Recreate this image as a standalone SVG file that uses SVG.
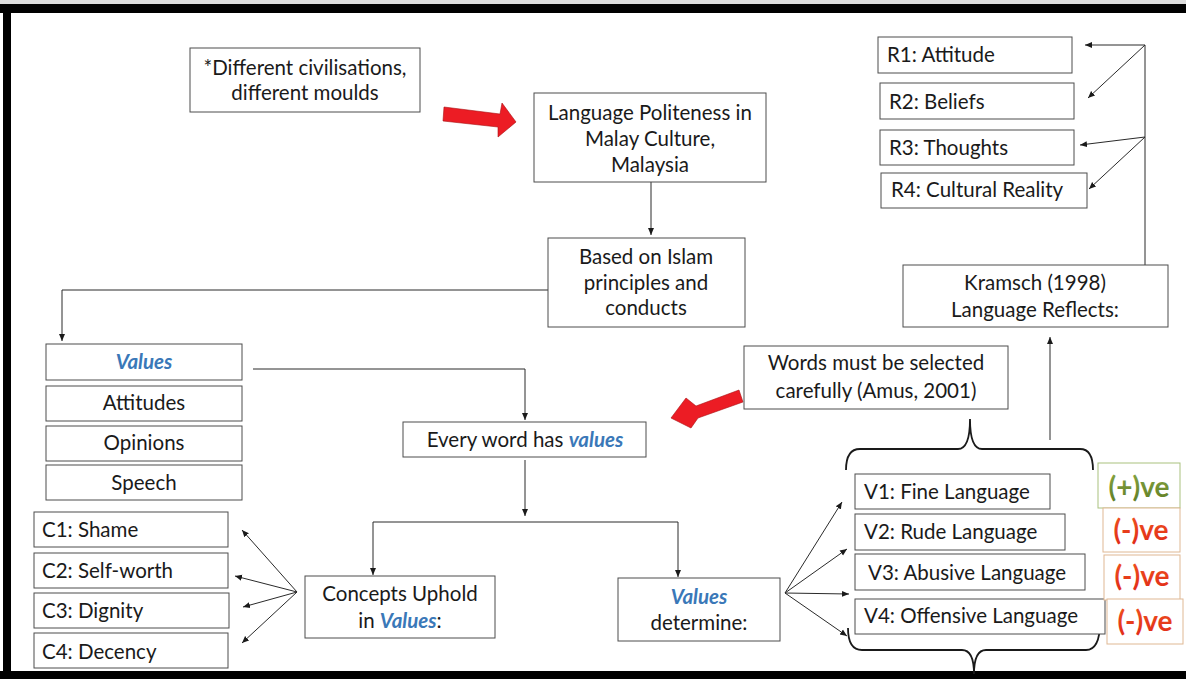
<svg xmlns="http://www.w3.org/2000/svg" width="1186" height="679" viewBox="0 0 1186 679">
<defs>
<marker id="ah" markerWidth="9" markerHeight="8" refX="7" refY="4" orient="auto" markerUnits="userSpaceOnUse"><path d="M0,1 L7,4 L0,7 z" fill="#1a1a1a"/></marker>
<linearGradient id="gpos" x1="0" y1="0" x2="0" y2="1"><stop offset="0" stop-color="#8aa844"/><stop offset="1" stop-color="#5f7d25"/></linearGradient>
<linearGradient id="gneg" x1="0" y1="0" x2="0" y2="1"><stop offset="0" stop-color="#f0561e"/><stop offset="1" stop-color="#e02a18"/></linearGradient>
</defs>
<style>
.box{fill:#fff;stroke:#4d4d4d;stroke-width:1}
.t{font-family:Lato,"Open Sans",sans-serif;font-size:20.5px;fill:#1a1a1a}
.c{text-anchor:middle}
.v{fill:#3a78b8;font-weight:bold;font-style:italic}
.ln{fill:none;stroke:#2a2a2a;stroke-width:1}
.arr{marker-end:url(#ah)}
.red{fill:#ec1c24;stroke:#a80f10;stroke-width:0.6}
.brace{fill:none;stroke:#1a1a1a;stroke-width:1.8}
.pm{font-family:Lato,"Open Sans",sans-serif;font-size:28px;font-weight:bold;text-anchor:middle}
.pbox{fill:#fff;stroke:#a9c17e;stroke-width:1}
.nbox{fill:#fff;stroke:#dfb893;stroke-width:1}
</style>
<rect x="0" y="0" width="1186" height="679" fill="#fff"/>
<g id="frame">
<rect x="0" y="0" width="1186" height="4" fill="#dcdcdc"/>
<rect x="0" y="4" width="1186" height="9" fill="#000"/>
<rect x="3" y="4" width="8" height="675" fill="#000"/>
<rect x="0" y="671" width="1186" height="8" fill="#000"/>
</g>
<g id="connectors">
<path class="ln arr" d="M651,182 L651,235"/>
<path class="ln arr" d="M548,290 L62,290 L62,341"/>
<path class="ln arr" d="M253,369 L525,369 L525,420"/>
<path class="ln arr" d="M525,460 L525,516"/>
<path class="ln" d="M373,522 L678,522"/>
<path class="ln arr" d="M373,522 L373,575"/>
<path class="ln arr" d="M678,522 L678,577"/>
<path class="ln arr" d="M297,592 L242,530"/>
<path class="ln arr" d="M297,592 L235,576"/>
<path class="ln arr" d="M297,592 L243,607"/>
<path class="ln arr" d="M297,592 L242,643"/>
<path class="ln arr" d="M785,593 L842,502"/>
<path class="ln arr" d="M785,593 L847,549"/>
<path class="ln arr" d="M785,593 L849,594"/>
<path class="ln arr" d="M785,593 L847,636"/>
<path class="ln arr" d="M1050,440 L1050,337"/>
<path class="ln" d="M1145,265 L1145,45"/>
<path class="ln arr" d="M1145,45 L1085,45"/>
<path class="ln arr" d="M1145,45 L1088,98"/>
<path class="ln arr" d="M1145,137 L1080,145"/>
<path class="ln arr" d="M1145,137 L1089,189"/>
<path class="brace" d="M846,470 Q846,449 860,449 L958,449 Q970,449 970,419 Q970,449 982,449 L1080,449 Q1093,449 1093,470"/>
<path class="brace" d="M848,628 Q848,650 862,650 L962,650 Q974,650 974,674 Q974,650 986,650 L1086,650 Q1100,650 1100,622"/>
<polygon class="red" points="444,107 500,114 502,103 516,122 498,137 498,127 443,121"/>
<polygon class="red" points="671,418 686,398 696,406 739,390 743,402 698,418 691,428"/>
</g>
<g id="n-different"><rect class="box" x="190" y="48" width="230" height="64"/>
<text class="t c" x="305" y="75">*Different civilisations,</text><text class="t c" x="305" y="100">different moulds</text></g>
<g id="n-language"><rect class="box" x="534" y="93" width="232" height="89"/>
<text class="t c" x="650" y="120">Language Politeness in</text><text class="t c" x="650" y="146">Malay Culture,</text><text class="t c" x="650" y="172">Malaysia</text></g>
<g id="n-based"><rect class="box" x="548" y="238" width="197" height="89"/>
<text class="t c" x="646" y="264">Based on Islam</text><text class="t c" x="646" y="290">principles and</text><text class="t c" x="646" y="315">conducts</text></g>
<g id="n-r1"><rect class="box" x="878" y="37" width="194" height="36"/><text class="t" x="887" y="62">R1: Attitude</text></g>
<g id="n-r2"><rect class="box" x="880" y="83" width="194" height="36"/><text class="t" x="889" y="109">R2: Beliefs</text></g>
<g id="n-r3"><rect class="box" x="880" y="130" width="194" height="35"/><text class="t" x="889" y="155">R3: Thoughts</text></g>
<g id="n-r4"><rect class="box" x="881" y="173" width="206" height="35"/><text class="t" x="891" y="197">R4: Cultural Reality</text></g>
<g id="n-kramsch"><rect class="box" x="903" y="265" width="265" height="62"/>
<text class="t c" x="1035" y="290">Kramsch (1998)</text><text class="t c" x="1035" y="317">Language Reflects:</text></g>
<g id="n-words"><rect class="box" x="744" y="346" width="264" height="63"/>
<text class="t c" x="876" y="370">Words must be selected</text><text class="t c" x="876" y="398">carefully (Amus, 2001)</text></g>
<g id="n-values"><rect class="box" x="46" y="344" width="196" height="36"/><text class="t c v" x="144" y="369">Values</text></g>
<g id="n-attitudes"><rect class="box" x="46" y="386" width="196" height="35"/><text class="t c" x="144" y="410">Attitudes</text></g>
<g id="n-opinions"><rect class="box" x="46" y="426" width="196" height="35"/><text class="t c" x="144" y="450">Opinions</text></g>
<g id="n-speech"><rect class="box" x="46" y="465" width="196" height="35"/><text class="t c" x="144" y="490">Speech</text></g>
<g id="n-every"><rect class="box" x="403" y="422" width="243" height="35"/>
<text class="t c" x="525" y="447">Every word has <tspan class="v">values</tspan></text></g>
<g id="n-c1"><rect class="box" x="34" y="512" width="194" height="35"/><text class="t" x="42" y="537">C1: Shame</text></g>
<g id="n-c2"><rect class="box" x="34" y="553" width="194" height="35"/><text class="t" x="42" y="578">C2: Self-worth</text></g>
<g id="n-c3"><rect class="box" x="34" y="593" width="195" height="35"/><text class="t" x="42" y="618">C3: Dignity</text></g>
<g id="n-c4"><rect class="box" x="34" y="633" width="194" height="35"/><text class="t" x="42" y="659">C4: Decency</text></g>
<g id="n-concepts"><rect class="box" x="305" y="576" width="190" height="62"/>
<text class="t c" x="400" y="601">Concepts Uphold</text><text class="t c" x="400" y="628">in <tspan class="v">Values</tspan>:</text></g>
<g id="n-vdetermine"><rect class="box" x="618" y="578" width="162" height="63"/>
<text class="t c v" x="699" y="604">Values</text><text class="t c" x="699" y="630">determine:</text></g>
<g id="n-v1"><rect class="box" x="855" y="474" width="195" height="35"/><text class="t" x="864" y="499">V1: Fine Language</text></g>
<g id="n-v2"><rect class="box" x="855" y="514" width="210" height="36"/><text class="t" x="864" y="539">V2: Rude Language</text></g>
<g id="n-v3"><rect class="box" x="855" y="554" width="230" height="36"/><text class="t" x="868" y="580">V3: Abusive Language</text></g>
<g id="n-v4"><rect class="box" x="855" y="599" width="250" height="35"/><text class="t" x="864" y="623">V4: Offensive Language</text></g>
<g id="n-pos"><rect class="pbox" x="1098" y="463" width="82" height="45"/><text class="pm" x="1139" y="497" fill="url(#gpos)">(+)ve</text></g>
<g id="n-neg1"><rect class="nbox" x="1103" y="508" width="77" height="44"/><text class="pm" x="1141" y="540" fill="url(#gneg)">(-)ve</text></g>
<g id="n-neg2"><rect class="nbox" x="1104" y="555" width="76" height="45"/><text class="pm" x="1142" y="586" fill="url(#gneg)">(-)ve</text></g>
<g id="n-neg3"><rect class="nbox" x="1107" y="599" width="76" height="45"/><text class="pm" x="1145" y="631" fill="url(#gneg)">(-)ve</text></g>
</svg>
